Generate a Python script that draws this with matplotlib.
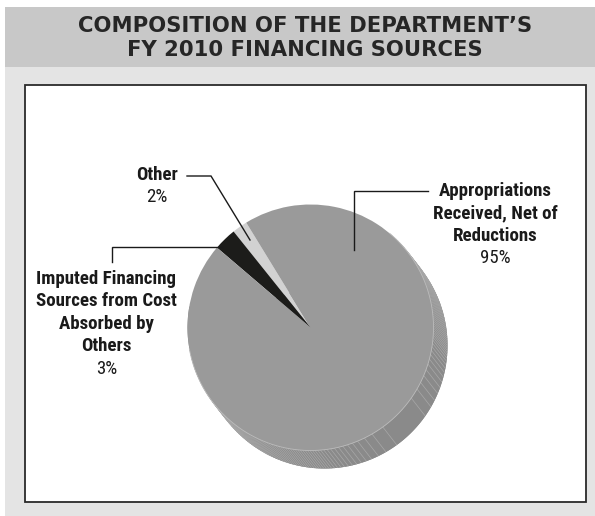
import numpy as np
import matplotlib
matplotlib.use("Agg")
import matplotlib.pyplot as plt
import matplotlib.font_manager as fm
from matplotlib.patches import Rectangle
from matplotlib.collections import LineCollection

title_lines = ["COMPOSITION OF THE DEPARTMENT’S", "FY 2010 FINANCING SOURCES"]
categories = ["Other", "Imputed Financing\nSources from Cost\nAbsorbed by\nOthers", "Appropriations\nReceived, Net of\nReductions"]
shares = [2, 3, 95]
share_labels = ["2%", "3%", "95%"]
slice_colors = ["#d2d2d2", "#1c1c1a", "#9a9a9a"]

have = {f.name for f in fm.fontManager.ttflist}
def pick(*names):
    return [n for n in names if n in have][:1] + ["Liberation Sans"]
title_fam = ["DejaVu Sans"]
label_fam = pick("Roboto Condensed", "Fira Sans Condensed", "IBM Plex Sans Condensed", "Asap Condensed")

W, H = 595, 516
fig = plt.figure(figsize=(W/100, H/100), dpi=100, facecolor="white")
ax = fig.add_axes([0, 0, 1, 1])
Y = lambda y: H - y

ax.add_patch(Rectangle((5, Y(516)), 590, 516-67, fc="#e4e4e4", ec="none", zorder=0))
ax.add_patch(Rectangle((5, Y(67)), 590, 60, fc="#c8c8c8", ec="none", zorder=0))
ax.add_patch(Rectangle((25, Y(502)), 561, 417, fc="white", ec="#2a2a2a", lw=1.3, zorder=1))

cx, cy, R = 310.5, Y(327.5), 123
ox, oy = 14, -18
start = 121.5

th = np.radians(np.linspace(-190, 50, 400))
top = np.c_[cx + R*np.cos(th), cy + R*np.sin(th)]
bot = top + [ox, oy]
poly = np.vstack([top, bot[::-1]])
ax.fill(poly[:, 0], poly[:, 1], color="#8a8a8a", zorder=2, lw=0)
ax.fill(cx+ox+R*np.cos(th), cy+oy+R*np.sin(th), color="#8a8a8a", zorder=2, lw=0)

ang = [-35, -54, -30, -60, -26.5, -64, -23, -67.5]
a = -23.0; step = 3.0
while a < 45:
    a += step; step = max(step*0.9, 1.1); ang.append(a)
a = -67.5; step = 2.6
while a > -170:
    a -= step; step = max(step*0.93, 1.15); ang.append(a)
t = np.radians(ang)
p0 = np.c_[cx + R*np.cos(t), cy + R*np.sin(t)]
segs = [[tuple(p), (p[0]+ox, p[1]+oy)] for p in p0]
ax.add_collection(LineCollection(segs, colors="#a8a8a8", linewidths=0.5, zorder=3))

wedges, _ = ax.pie(shares, colors=slice_colors, startangle=start, counterclock=True,
                   center=(cx, cy), radius=R, wedgeprops=dict(lw=0))
for w in wedges:
    w.set_zorder(4)
rim = np.radians(np.linspace(-170, 50, 200))
ax.plot(cx+R*np.cos(rim), cy+R*np.sin(rim), color="#bdbdbd", lw=0.6, zorder=5)

ax.set_xlim(0, W); ax.set_ylim(0, H); ax.set_aspect("auto"); ax.axis("off")

lk = dict(color="#1a1a1a", lw=1.0, zorder=6, solid_joinstyle="miter")
ax.plot([187, 211, 250], [Y(176), Y(176), Y(240)], **lk)
ax.plot([112, 112, 222], [Y(262), Y(247), Y(247)], **lk)
ax.plot([354, 354, 428], [Y(250), Y(190.5), Y(190.5)], **lk)

for s, y in zip(title_lines, [26, 50]):
    ax.text(305, Y(y), s, ha="center", va="center", fontsize=15.2, color="#262626",
            family=title_fam, weight="bold", zorder=7)

def label(x, y_first, name, pct):
    n = name.count("\n") + 1
    for i, line in enumerate(name.split("\n")):
        ax.text(x, Y(y_first + i*22.4), line, ha="center", va="center", fontsize=13.6,
                family=label_fam, weight="bold", color="#1a1a1a", zorder=7)
    ax.text(x, Y(y_first + n*22.4), pct, ha="center", va="center", fontsize=13.6,
            family=label_fam, color="#1a1a1a", zorder=7)

label(157, 175, categories[0], share_labels[0])
label(106.5, 279, categories[1], share_labels[1])
label(495, 191, categories[2], share_labels[2])

fig.savefig("out.png", dpi=100, facecolor="white")
